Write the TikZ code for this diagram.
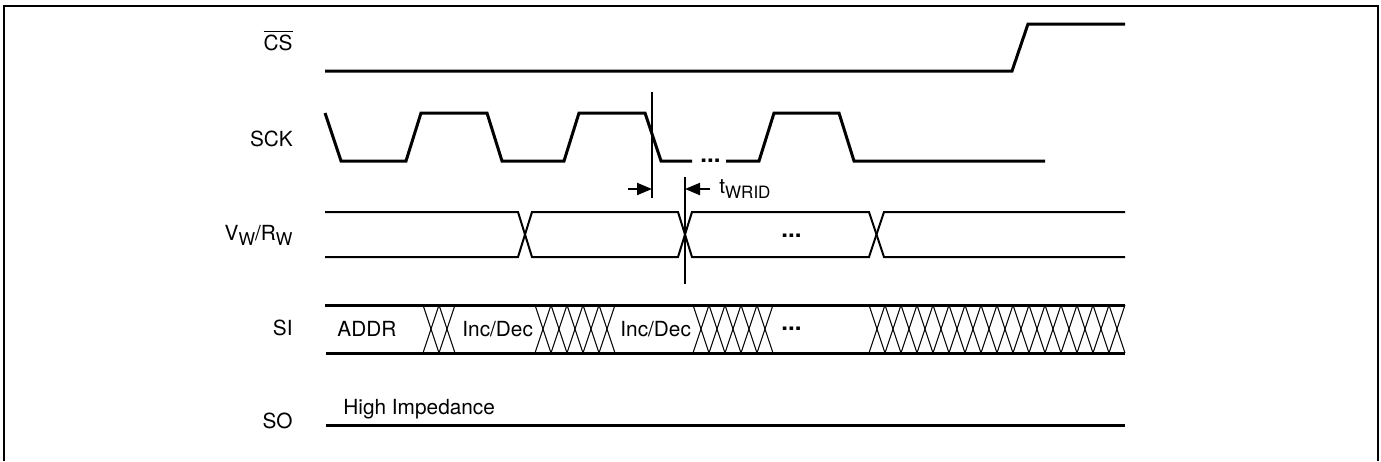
\documentclass[tikz,border=0pt]{standalone}
\usepackage{fontspec}
\setmainfont{TeX Gyre Heros}
\usetikzlibrary{arrows.meta}

\newcommand{\lowsub}[1]{\raisebox{-2.5pt}{\fontsize{8.8}{10}\selectfont #1}}

\tikzset{
    sig/.style={line width=1.5pt},
    bus/.style={line width=1pt},
    hatch/.style={line width=0.5pt},
    marker/.style={line width=1pt},
    lbl/.style={anchor=base east, inner sep=0pt},
    txt/.style={anchor=base west, inner sep=0pt},
    dots/.style={txt, font=\fontsize{12}{14}\selectfont\bfseries},
    tick/.style={marker, -{Triangle[length=7.5pt, width=6pt]}}
}

\begin{document}
\begin{tikzpicture}[x=0.5pt, y=-0.5pt, font=\fontsize{10.4}{12}\selectfont]
    \useasboundingbox (0,0) rectangle (1381,461);

    % Frame
    \draw[line width=1.2pt] (4,461) -- (4,6) -- (1378,6) -- (1378,461);

    % Signal names
    \node[lbl] (lblCS) at (293,50) {$\overline{\mbox{CS}}$};
    \node[lbl] (lblSCK) at (293,146) {SCK};
    \node[lbl] (lblVR) at (293,240) {V\lowsub{W}/R\lowsub{W}};
    \node[lbl] (lblSI) at (293,335) {SI};
    \node[lbl] (lblSO) at (293,428) {SO};

    % CS
    \draw[sig] (325,71) -- (1012,71) -- (1028,24) -- (1125,24);

    % SCK
    \draw[sig] (325,113) -- (341,161) -- (406,161) -- (421,113) -- (487,113)
        -- (502,161) -- (564,161) -- (579,113) -- (645,113) -- (661,161) -- (692,161);
    \draw[sig] (726,161) -- (759,161) -- (774,113) -- (839,113) -- (854,161) -- (1045,161);
    \node[dots] (dotsSCK) at (700,162) {...};

    % tWRID
    \draw[marker] (652,92) -- (652,198);
    \draw[marker] (685,177) -- (685,284);
    \coordinate (edgeA) at (652,189);
    \coordinate (edgeB) at (685,189);
    \coordinate (tailA) at (628,189);
    \coordinate (tailB) at (710,189);
    \draw[tick] (tailA) -- (edgeA);
    \draw[tick] (tailB) -- (edgeB);
    \node[txt] (txtWRID) at (719,193) {t\lowsub{\fontsize{8.5}{10}\selectfont WRID}};

    % VW/RW
    \draw[bus] (325,212) -- (518,212) -- (532,257) -- (678,257) -- (692,212)
        -- (869,212) -- (884,257) -- (1125,257);
    \draw[bus] (325,257) -- (518,257) -- (532,212) -- (678,212) -- (692,257)
        -- (869,257) -- (884,212) -- (1125,212);
    \node[dots] (dotsVR) at (781,237) {...};

    % SI
    \draw[sig] (325,305) -- (1125,305);
    \draw[sig] (326,353) -- (1125,353);
    \foreach \x/\n in {423/2, 535/5, 693/5, 869/16} {
        \foreach \i in {1,...,\n} {
            \draw[hatch] (\x+16*\i-16,305) -- (\x+16*\i,353);
            \draw[hatch] (\x+16*\i-16,353) -- (\x+16*\i,305);
        }
    }
    \node[txt] (txtADDR) at (337,336) {ADDR};
    \node[txt] (txtIncA) at (462,336) {Inc/Dec};
    \node[txt] (txtIncB) at (620,336) {Inc/Dec};
    \node[dots] (dotsSI) at (781,330) {...};

    % SO
    \draw[sig] (326,425) -- (1125,425);
    \node[txt] (txtHiZ) at (343,414) {High Impedance};

\end{tikzpicture}
\end{document}
